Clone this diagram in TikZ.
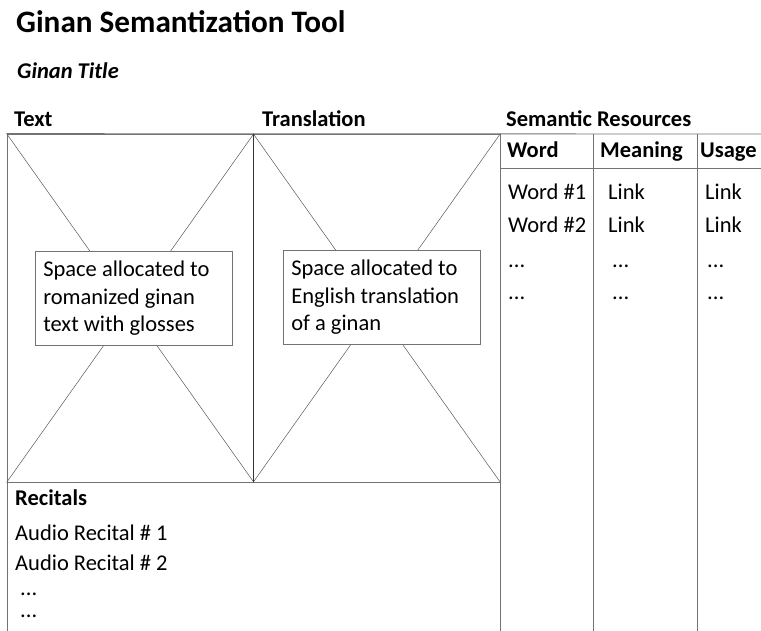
\documentclass[tikz,border=0pt]{standalone}
\usepackage{fontspec}
\setmainfont{Carlito}
\usepackage{tikz}

\begin{document}
\begin{tikzpicture}[x=1pt, y=-1pt]
    \tikzstyle{label} = [anchor=base west, inner sep=0pt, font=\fontsize{22.5}{27.5}\selectfont]
    \tikzstyle{head} = [label, font=\fontsize{22.5}{27.5}\selectfont\bfseries]
    \tikzstyle{panel} = [rectangle, draw=gray!90!black, line width=0.8pt, inner sep=0pt, minimum width=246.5, minimum height=348]
    \tikzstyle{cross} = [draw=black!65, line width=0.5pt]
    \tikzstyle{note} = [rectangle, draw=gray!90!black, fill=white, line width=0.6pt, anchor=north west, inner xsep=8pt, inner ysep=0pt, align=flush left, text width=181, minimum height=94, font=\fontsize{22.5}{27.5}\selectfont]
    \tikzstyle{rule} = [draw=gray!90!black, line width=0.8pt]

    \useasboundingbox (0,0) rectangle (761,631);

    % Titles
    \node[label, font=\fontsize{31.2}{36}\selectfont\bfseries] (title) at (16,33) {Ginan Semantization Tool};
    \node[label, font=\fontsize{22.5}{27.5}\selectfont\bfseries\itshape] (gtitle) at (17,79) {Ginan Title};
    \node[head] (htext) at (14,127) {Text};
    \node[head] (htrans) at (262,127) {Translation};
    \node[head] (hsem) at (506,127) {Semantic Resources};

    % Recitals
    \node[rectangle, draw=gray!90!black, line width=0.8pt, anchor=north west, inner sep=0pt, minimum width=493, minimum height=160] (recitals) at (7,482) {};
    \node[head] (hrec) at (15,505) {Recitals};
    \node[label] (rec1) at (15,540) {Audio Recital \# 1};
    \node[label] (rec2) at (15,570) {Audio Recital \# 2};
    \node[label] (rec3) at (20,595) {...};
    \node[label] (rec4) at (20,617) {...};

    % Text and translation panels
    \node[panel] (ptext) at (130.25,308) {};
    \node[panel] (ptrans) at (376.75,308) {};
    \foreach \p in {ptext, ptrans} {
        \draw[cross] (\p.north west) -- (\p.south east);
        \draw[cross] (\p.south west) -- (\p.north east);
    }
    \draw[draw=black!80, line width=0.9pt] (ptext.north east) -- (ptext.south east);
    \node[note] (ntext) at (35,251) {Space allocated to\\romanized ginan\\text with glosses};
    \node[note] (ntrans) at (283,250) {Space allocated to\\English translation\\of a ginan};

    % Semantic resources table
    \coordinate (t0) at (500,134);
    \coordinate (t1) at (761,134);
    \coordinate (h0) at (500,168);
    \coordinate (h1) at (761,168);
    \coordinate (b0) at (500,631);
    \coordinate (c1) at (593,134);
    \coordinate (d1) at (593,631);
    \coordinate (c2) at (697,134);
    \coordinate (d2) at (697,631);
    \draw[rule] (ptext.north west) -- (t1);
    \draw[rule] (h0) -- (h1);
    \draw[rule] (t0) -- (b0);
    \draw[rule] (c1) -- (d1);
    \draw[rule] (c2) -- (d2);

    \node[head] (hword) at (507,158) {Word};
    \node[head] (hmean) at (600,158) {Meaning};
    \node[head] (husage) at (700,158) {Usage};
    \foreach \n/\y in {1/200, 2/233} {
        \node[label] (word\n) at (508,\y) {Word \#\n};
        \node[label] (mean\n) at (608,\y) {Link};
        \node[label] (usage\n) at (705,\y) {Link};
    }
    \foreach \n/\y in {3/268, 4/300} {
        \node[label] (word\n) at (508,\y) {...};
        \node[label] (mean\n) at (612,\y) {...};
        \node[label] (usage\n) at (707,\y) {...};
    }

\end{tikzpicture}
\end{document}
